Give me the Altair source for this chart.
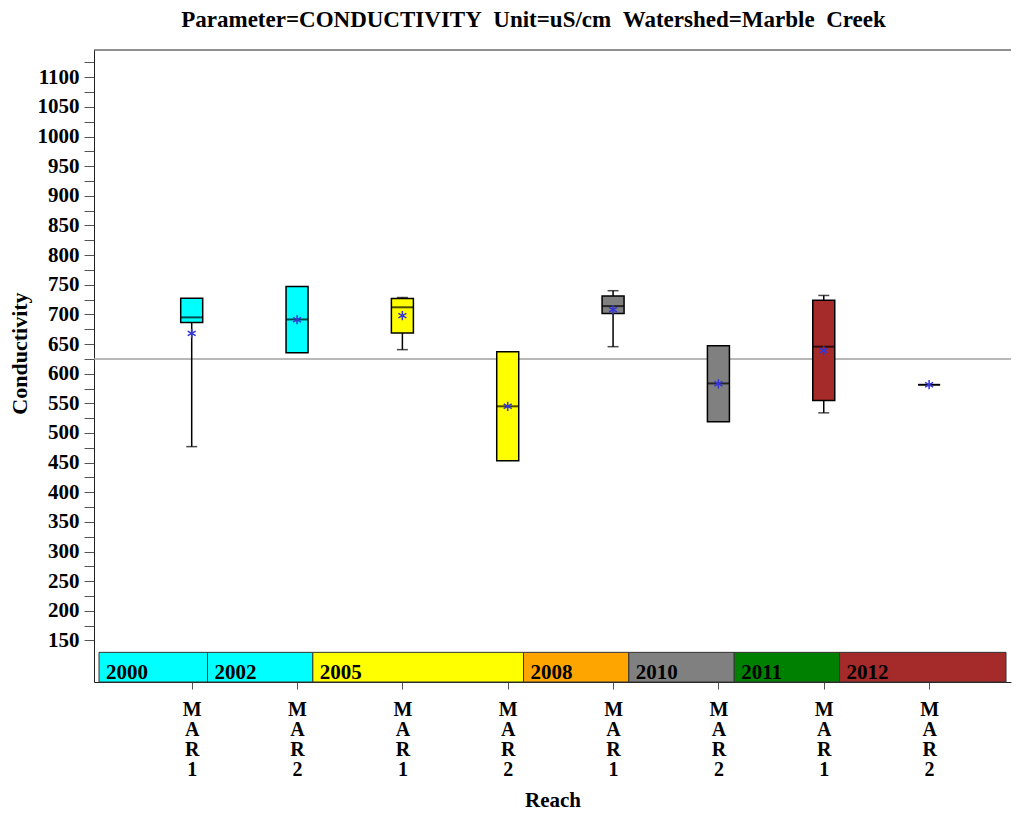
import json
import altair as alt
import pandas as pd

# ---- data ----
reaches = ["MAR1", "MAR2", "MAR1", "MAR2", "MAR1", "MAR2", "MAR1", "MAR2"]
box_colors = ["#00FFFF", "#00FFFF", "#FFFF00", "#FFFF00", "#808080", "#808080", "#A52A2A", "#A52A2A"]
q1 = [686.5, 635.5, 668.6, 453.0, 701.6, 519.0, 554.6, 581.4]
q3 = [727.3, 747.0, 727.0, 637.0, 731.0, 647.0, 724.0, 581.4]
median = [695.0, 691.5, 712.0, 545.0, 714.0, 583.6, 645.6, 581.4]
mean = [668.0, 691.0, 698.0, 545.0, 708.0, 583.0, 639.0, 581.4]
whisker_lo = [477.0, 635.5, 640.6, 453.0, 645.6, 519.0, 534.0, 581.4]
whisker_hi = [727.3, 747.0, 728.5, 637.0, 740.0, 647.0, 732.0, 581.4]
ref_value = [625]

years = ["2000", "2002", "2005", "2008", "2010", "2011", "2012"]
band_colors = ["#00FFFF", "#00FFFF", "#FFFF00", "#FFA500", "#808080", "#008000", "#A52A2A"]
band_start = [0.12, 1.15, 2.15, 4.15, 5.15, 6.15, 7.15]
band_end = [1.15, 2.15, 4.15, 5.15, 6.15, 7.15, 8.73]
band_lo = 80
band_hi = 130
band_label_y = 96

X_DOMAIN = [0.12, 8.73]
Y_DOMAIN = [80, 1146]
W, H = 917, 632
FONT = "Liberation Serif"

pos = list(range(1, len(reaches) + 1))
box = pd.DataFrame({
    "pos": pos, "reach": reaches, "color": box_colors, "q1": q1, "q3": q3,
    "median": median, "mean": mean, "wlo": whisker_lo, "whi": whisker_hi,
})
low_caps = box[box["wlo"] < box["q1"]]
high_caps = box[box["whi"] > box["q3"]]
bands = pd.DataFrame({"year": years, "color": band_colors, "start": band_start,
                      "end": band_end, "lo": band_lo, "hi": band_hi,
                      "ly": band_label_y})
ref = pd.DataFrame({"ref": ref_value})

label_expr = "split(" + json.dumps(reaches).replace('"', "'") + "[round(datum.value) - 1], '')"

xscale = alt.Scale(domain=X_DOMAIN, nice=False, zero=False)
yscale = alt.Scale(domain=Y_DOMAIN, nice=False, zero=False)
xaxis = alt.Axis(values=pos, labelExpr=label_expr, grid=False, tickSize=7,
                 tickColor="#555555", domainColor="#222222", labelFont=FONT,
                 labelFontSize=20, labelFontWeight="bold", labelColor="black",
                 labelLineHeight=20, labelBaseline="top", labelAlign="center",
                 labelPadding=10, labelAngle=0, titleFont=FONT, titleFontSize=21,
                 titleFontWeight="bold", titleColor="black", titlePadding=10)
yaxis = alt.Axis(values=list(range(150, 1126, 25)),
                 labelExpr="datum.value % 50 == 0 ? datum.label : ''",
                 format="d", grid=False, tickSize=10, tickColor="#555555",
                 domainColor="#222222", labelFont=FONT, labelFontSize=21,
                 labelFontWeight="bold", labelColor="black", labelPadding=5,
                 titleFont=FONT, titleFontSize=22, titleFontWeight="bold",
                 titleColor="black", titleX=-75, titleY=303, titleBaseline="middle",
                 titleAlign="center")


def X(field):
    return alt.X(f"{field}:Q", scale=xscale, axis=xaxis, title="Reach")


def Y(field):
    return alt.Y(f"{field}:Q", scale=yscale, axis=yaxis, title="Conductivity")


ref_layer = alt.Chart(ref).mark_rule(color="#a0a0a0", strokeWidth=1.5).encode(y=Y("ref"))

top_border = alt.Chart(ref).mark_rule(color="#222222", strokeWidth=1).encode(
    x=alt.value(0), x2=alt.value(W), y=alt.value(0))

band_rect = alt.Chart(bands).mark_rect(stroke="#333333", strokeWidth=1).encode(
    x=X("start"), x2="end", y=Y("lo"), y2="hi",
    color=alt.Color("color:N", scale=None))

band_text = alt.Chart(bands).mark_text(
    align="left", baseline="middle", dx=7, font=FONT, fontSize=21,
    fontWeight="bold", color="black").encode(
    x=X("start"), y=Y("ly"), text="year:N")

whisk_lo_layer = alt.Chart(box).mark_rule(color="black", strokeWidth=1.5).encode(
    x=X("pos"), y=Y("wlo"), y2="q1")
whisk_hi_layer = alt.Chart(box).mark_rule(color="black", strokeWidth=1.5).encode(
    x=X("pos"), y=Y("q3"), y2="whi")
cap_lo = alt.Chart(low_caps).mark_tick(orient="horizontal", size=11, thickness=1.5,
                                        color="black").encode(x=X("pos"), y=Y("wlo"))
cap_hi = alt.Chart(high_caps).mark_tick(orient="horizontal", size=11, thickness=1.5,
                                         color="black").encode(x=X("pos"), y=Y("whi"))

box_layer = alt.Chart(box).mark_bar(size=22, stroke="black", strokeWidth=1.5).encode(
    x=X("pos"), y=Y("q1"), y2="q3", color=alt.Color("color:N", scale=None))

median_layer = alt.Chart(box).mark_tick(orient="horizontal", size=22, thickness=2,
                                        color="black").encode(x=X("pos"), y=Y("median"))

star = "M0,-1L0,1M-0.87,-0.5L0.87,0.5M-0.87,0.5L0.87,-0.5"
mean_layer = alt.Chart(box).mark_point(shape=star, size=85, filled=False,
                                       color="#3535d8", strokeWidth=1.5, opacity=1).encode(
    x=X("pos"), y=Y("mean"))

chart = alt.layer(
    ref_layer, band_rect, band_text, whisk_lo_layer, whisk_hi_layer, cap_lo, cap_hi,
    box_layer, median_layer, mean_layer, top_border,
).properties(
    width=W, height=H,
    background="white",
    title=alt.TitleParams(
        text="Parameter=CONDUCTIVITY\u00a0\u00a0Unit=uS/cm\u00a0\u00a0Watershed=Marble\u00a0\u00a0Creek",
        font=FONT, fontSize=23, fontWeight="bold", color="black",
        anchor="middle", dx=-19, offset=18),
    padding={"left": 0, "top": 0, "right": 0, "bottom": 0},
).configure_view(strokeWidth=0, stroke="transparent")

chart.save("out.html", embed_options={"renderer": "svg", "actions": False})
